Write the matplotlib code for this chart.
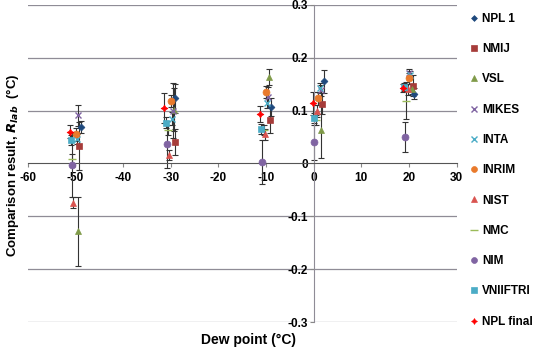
import numpy as np
import matplotlib
matplotlib.use("Agg")
import matplotlib.pyplot as plt

plt.rcParams["font.family"] = ["Liberation Sans", "DejaVu Sans"]
plt.rcParams["font.weight"] = "bold"

# lab results: dew point (x), comparison result (y), uncertainty (err)
labs = ["NPL 1", "NMIJ", "VSL", "MIKES", "INTA", "INRIM",
        "NIST", "NMC", "NIM", "VNIIFTRI", "NPL final"]

x_vals = {
    "NPL 1":     [-48.9, -29.0, -8.9, 2.1, 21.0],
    "NMIJ":      [-49.2, -29.2, -9.2, 1.8, 20.8],
    "VSL":       [-49.4, -29.3, -9.4, 1.6, 20.6],
    "MIKES":     [-49.5, -29.6, -9.6, 1.5, 20.1],
    "INTA":      [-49.7, -29.7, -9.8, 1.4, 20.2],
    "INRIM":     [-49.9, -29.9, -10.0, 1.0, 19.9],
    "NIST":      [-50.4, -30.3, -10.3, 0.7, 19.7],
    "NMC":       [-50.7, -30.5, -10.5, 0.5, 19.4],
    "NIM":       [-50.8, -30.8, -10.8, 0.1, 19.2],
    "VNIIFTRI":  [-51.0, -31.0, -11.0, 0.0, 19.0],
    "NPL final": [-51.2, -31.3, -11.3, -0.2, 18.7],
}

y_vals = {
    "NPL 1":     [0.069, 0.123, 0.106, 0.155, 0.132],
    "NMIJ":      [0.033, 0.041, 0.082, 0.113, 0.147],
    "VSL":       [-0.128, 0.102, 0.164, 0.063, 0.141],
    "MIKES":     [0.091, 0.100, 0.125, 0.138, 0.171],
    "INTA":      [0.046, 0.085, 0.114, 0.143, 0.167],
    "INRIM":     [0.055, 0.118, 0.135, 0.123, 0.161],
    "NIST":      [-0.074, 0.016, 0.055, 0.099, 0.140],
    "NMC":       [0.008, 0.063, 0.063, 0.082, 0.119],
    "NIM":       [-0.003, 0.036, 0.003, 0.040, 0.050],
    "VNIIFTRI":  [0.044, 0.077, 0.065, 0.086, 0.145],
    "NPL final": [0.060, 0.105, 0.094, 0.114, 0.143],
}

err_vals = {
    "NPL 1":     [0.012, 0.028, 0.017, 0.022, 0.010],
    "NMIJ":      [0.045, 0.025, 0.025, 0.020, 0.020],
    "VSL":       [0.065, 0.040, 0.015, 0.052, 0.010],
    "MIKES":     [0.020, 0.052, 0.020, 0.010, 0.008],
    "INTA":      [0.010, 0.012, 0.010, 0.010, 0.008],
    "INRIM":     [0.012, 0.012, 0.012, 0.012, 0.010],
    "NIST":      [0.010, 0.010, 0.010, 0.012, 0.010],
    "NMC":       [0.010, 0.010, 0.010, 0.010, 0.035],
    "NIM":       [0.060, 0.045, 0.042, 0.033, 0.028],
    "VNIIFTRI":  [0.010, 0.010, 0.010, 0.010, 0.008],
    "NPL final": [0.012, 0.028, 0.015, 0.022, 0.008],
}

styles = {
    "NPL 1":     dict(marker="D", color="#1F497D", ms=3.5),
    "NMIJ":      dict(marker="s", color="#A63C3A", ms=5),
    "VSL":       dict(marker="^", color="#7F9A48", ms=5),
    "MIKES":     dict(marker="x", color="#8064A2", ms=5),
    "INTA":      dict(marker="x", color="#4BACC6", ms=5),
    "INRIM":     dict(marker="o", color="#E97A2C", ms=5),
    "NIST":      dict(marker="^", color="#D9534F", ms=5),
    "NMC":       dict(marker="_", color="#9BBB59", ms=6),
    "NIM":       dict(marker="o", color="#8064A2", ms=5),
    "VNIIFTRI":  dict(marker="s", color="#4BACC6", ms=5),
    "NPL final": dict(marker=(4, 1, 0), color="#FF0000", ms=5),
}

x_ticks = [-60, -50, -40, -30, -20, -10, 0, 10, 20, 30]
y_ticks = [-0.3, -0.2, -0.1, 0, 0.1, 0.2, 0.3]
y_ticklabels = ["-0.3", "-0.2", "-0.1", "0", "0.1", "0.2", "0.3"]

fig = plt.figure(figsize=(5.4, 3.51), dpi=100)
ax = fig.add_axes([0.0513, 0.0818, 0.7944, 0.9048])

# horizontal gridlines (the zero line is the x axis itself)
for yv in y_ticks:
    if yv != 0:
        ax.axhline(yv, color="#8F8C96", lw=0.9, zorder=0)

handles = []
for lab in labs:
    st = styles[lab]
    ax.errorbar(x_vals[lab], y_vals[lab], yerr=err_vals[lab],
                fmt="none", ecolor="#333333", elinewidth=0.8,
                capsize=2, capthick=0.8, zorder=2)
    h, = ax.plot(x_vals[lab], y_vals[lab], linestyle="none",
                 marker=st["marker"], color=st["color"], ms=st["ms"],
                 mew=1.0 if st["marker"] in ("x", "_") else 0.5,
                 label=lab, zorder=3)
    handles.append(h)

ax.set_xlim(-60, 30)
ax.set_ylim(-0.3, 0.3)
ax.set_xticks(x_ticks)
ax.set_yticks(y_ticks)
ax.set_xticklabels([str(t) for t in x_ticks])
ax.set_yticklabels(y_ticklabels)

# axes cross at the origin
ax.spines["left"].set_position(("data", 0))
ax.spines["bottom"].set_position(("data", 0))
ax.spines["top"].set_visible(False)
ax.spines["right"].set_visible(False)
ax.spines["left"].set_color("#8F8C96")
ax.spines["bottom"].set_color("#555555")
ax.tick_params(axis="both", labelsize=8.5, length=3, color="#888888", direction="out")
ax.tick_params(axis="x", pad=3)
ax.tick_params(axis="y", pad=1)

fig.text(0.024, 0.53, "Comparison result, $\\mathbf{\\it{R_{lab}}}$  (°C)",
         rotation=90, ha="center", va="center", fontsize=9.5, fontweight="bold")
fig.text(0.46, 0.03, "Dew point (°C)", ha="center", va="center",
         fontsize=10, fontweight="bold")

fig.legend(handles=handles, loc="center left", bbox_to_anchor=(0.86, 0.515),
           frameon=False, fontsize=8.5, labelspacing=1.55, handlelength=0.6,
           handletextpad=0.4, borderpad=0, markerscale=0.85)

fig.savefig("out.png", dpi=100)
